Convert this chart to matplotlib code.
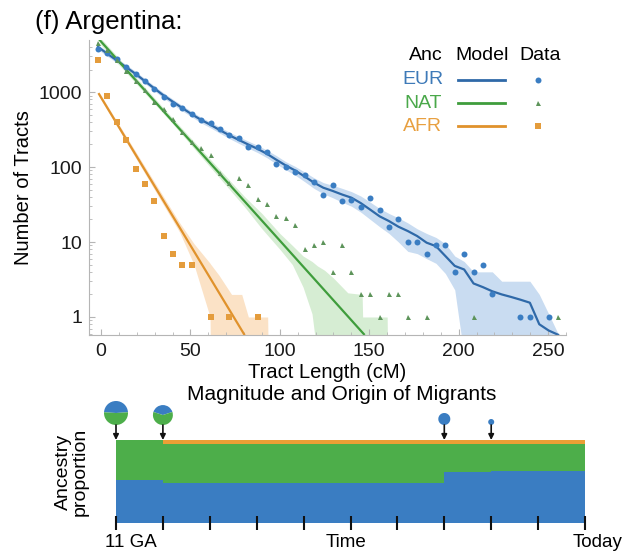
import numpy as np
import matplotlib.pyplot as plt
from matplotlib.patches import Wedge
from matplotlib.ticker import FixedLocator, LogLocator, NullFormatter, MultipleLocator

plt.rcParams['font.family'] = ['Liberation Sans', 'DejaVu Sans']
nan = np.nan

# tract length bins (cM)
bins = np.arange(50) * 5.25 - 1.7

# observed tract counts per bin
eur_data = [3730, 3300, 2740, 2170, 1740, 1400, 1090, 870, 690, 620,
            505, 425, 390, 318, 270, 245, 187, 187, 157, 110,
            100, 87, 79, 64, 42, 57, 35.5, 36, 29.5, 39,
            27, 16, 20, 10, 10, 7, 9, 9, 4, 7,
            4, 5, 2, nan, nan, 1, 1, nan, 1, nan]
nat_data = [4500, 3650, 2680, 1900, 1400, 1060, 745, 590, 435, 295,
            218, 177, 143, 83, 62, 71, 57, 38, 32, 22,
            21, 17, 8, 9, 10, 4, 9, 4, 2, 2,
            1, 2, 2, 1, nan, 1, nan, nan, nan, nan,
            1, nan, nan, nan, nan, nan, nan, nan, nan, 1]
afr_data = [2700, 880, 400, 230, 94, 59, 35, 12, 7, 5,
            5, nan, 1, nan, 1, nan, nan, 1]

# model predictions and confidence bands
eur_model = [4000, 3250, 2650, 2150, 1750, 1400, 1120, 900, 740, 610,
             505, 425, 365, 310, 265, 230, 200, 175, 150, 125,
             105, 90, 75, 62, 53, 48, 43, 39, 33, 27,
             22, 19, 16, 14, 12, 9.8, 8.8, 6.5, 4.8, 4.3,
             2.8, 2.5, 2.2, 2.0, 1.85, 1.7, 1.55, 0.8, 0.66, 0.58]
eur_upper = [4300, 3500, 2850, 2320, 1890, 1510, 1210, 975, 800, 660,
             548, 460, 398, 340, 292, 254, 222, 195, 168, 142,
             118, 102, 86, 72, 62, 57, 52, 47, 41, 34,
             28, 24, 21, 18, 15, 13, 11.5, 9.5, 6.5, 5.5,
             4, 4, 4, 3, 3, 3, 3, 2, 1.1, 0.6]
eur_lower = [3700, 3000, 2460, 1990, 1620, 1300, 1040, 830, 680, 560,
             465, 388, 333, 282, 240, 207, 179, 156, 133, 110,
             92, 78, 64, 52, 44, 39, 34, 30, 25, 20,
             16, 13, 10, 7.5, 7, 6, 5.2, 3.8, 2.3, 0.3,
             0.3, 0.3, 0.3, 0.3, 0.3, 0.3, 0.3, 0.3, 0.3, 0.3]

nat_model_x = [-0.6, 147]
nat_model = [4900, 0.59]
nat_band_x = [-0.6, 40, 80, 90, 100, 107, 113, 118, 121, 125, 130, 138, 146, 146.3, 160, 160.3]
nat_lower = [4400, 380, 30, 15, 8, 5, 2.5, 1.1, 0.3, 0.3, 0.3, 0.3, 0.3, 0.3, 0.3, 0.3]
nat_upper = [5400, 450, 41, 24, 13, 9, 6.5, 5.5, 4.8, 4.2, 3.3, 2.1, 2, 1, 1, 0.3]

afr_model_x = [-1.1, 80]
afr_model = [940, 0.59]
afr_band_x = [-1.1, 20, 44, 52, 61, 61.2, 66, 73, 78.7, 82.4, 93.2, 93.5]
afr_lower = [880, 125, 13.5, 5, 1.0, 0.3, 0.3, 0.3, 0.3, 0.3, 0.3, 0.3]
afr_upper = [1000, 152, 18, 9.5, 5.2, 5.1, 3.6, 2, 2, 1, 1, 0.3]

# ancestry proportions through time (11 GA -> today)
time_edges = [0, 1, 7, 8, 10]
eur_prop = [0.52, 0.485, 0.62, 0.63, 0.63]
nat_prop = [0.48, 0.47, 0.335, 0.325, 0.325]
afr_prop = [0.0, 0.045, 0.045, 0.045, 0.045]

# migrant pulses
pulse_time = [0, 1, 7, 8]
pulse_size = [1.0, 0.69, 0.25, 0.0625]
pulse_eur = [0.48, 0.40, 1.0, 1.0]
pulse_nat = [0.52, 0.60, 0.0, 0.0]

blue = '#3a7dc2'
green = '#4dae4a'
orange = '#eb9f35'

fig = plt.figure(figsize=(6.41, 5.54), dpi=100)

# ---- tract length distribution
ax = fig.add_axes([89/641, 219/554, 477/641, 295/554])
ax.set_yscale('log')

ax.fill_between(bins, eur_lower, eur_upper, color='#c9dcf1', lw=0, zorder=1)
ax.fill_between(nat_band_x, nat_lower, nat_upper, color='#d6edd3', lw=0, zorder=1)
ax.fill_between(afr_band_x, afr_lower, afr_upper, color='#fbe2c6', lw=0, zorder=1)

ax.plot(bins, eur_model, color='#2f69a8', lw=1.6, zorder=2)
ax.plot(nat_model_x, nat_model, color='#3f9d3c', lw=1.6, zorder=2)
ax.plot(afr_model_x, afr_model, color='#e0922c', lw=1.6, zorder=2)

ax.plot(bins, eur_data, 'o', color=blue, ms=4.3, mew=0, zorder=3)
ax.plot(bins, nat_data, '^', color='#5d945a', ms=3.6, mew=0, zorder=3)
ax.plot(bins[:len(afr_data)], afr_data, 's', color='#e49c3c', ms=3.8, mew=0, zorder=3)

ax.set_xlim(-6.7, 260)
ax.set_ylim(0.575, 4950)
ax.yaxis.set_major_locator(FixedLocator([1, 10, 100, 1000]))
ax.set_yticklabels(['1', '10', '100', '1000'])
ax.yaxis.set_minor_locator(LogLocator(base=10, subs=np.arange(2, 10)))
ax.yaxis.set_minor_formatter(NullFormatter())
ax.set_xticks([0, 50, 100, 150, 200, 250])
ax.xaxis.set_minor_locator(MultipleLocator(10))

for s in ['top', 'right']:
    ax.spines[s].set_visible(False)
for s in ['left', 'bottom']:
    ax.spines[s].set_color('#b5b5b5')
    ax.spines[s].set_linewidth(0.8)
ax.tick_params(which='both', direction='in', color='#b5b5b5', labelsize=14, labelcolor='#1a1a1a')
ax.tick_params(which='major', length=4)
ax.tick_params(which='minor', length=2.5)
ax.tick_params(axis='x', pad=6)
ax.tick_params(axis='y', pad=5)

ax.set_xlabel('Tract Length (cM)', fontsize=14.5, labelpad=2)
ax.set_ylabel('Number of Tracts', fontsize=14.5, labelpad=4)

# legend table
ax.text(0.706, 0.949, 'Anc', transform=ax.transAxes, ha='center', va='center', fontsize=14)
ax.text(0.824, 0.949, 'Model', transform=ax.transAxes, ha='center', va='center', fontsize=14)
ax.text(0.945, 0.949, 'Data', transform=ax.transAxes, ha='center', va='center', fontsize=14)
leg_rows = [('EUR', '#3e7ab8', '#2f69a8', blue, 'o', 4.3, 0.866),
            ('NAT', '#4aa84a', '#3f9d3c', '#5d945a', '^', 3.6, 0.786),
            ('AFR', '#e8a040', '#e0922c', '#e49c3c', 's', 3.8, 0.707)]
for name, tc, lc, mc, mk, ms, yy in leg_rows:
    ax.text(0.700, yy, name, transform=ax.transAxes, ha='center', va='center', fontsize=14, color=tc)
    ax.plot([0.774, 0.872], [yy, yy], transform=ax.transAxes, color=lc, lw=2, clip_on=False)
    ax.plot([0.941], [yy], mk, transform=ax.transAxes, color=mc, ms=ms, mew=0, clip_on=False)

fig.text(35/641, 532/554, '(f) Argentina:', fontsize=18.5, ha='left', va='center')

# ---- ancestry through time
ax2 = fig.add_axes([116/641, 31/554, 469/641, 83/554])
eur_top = np.array(eur_prop)
nat_top = eur_top + np.array(nat_prop)
afr_top = nat_top + np.array(afr_prop)
ax2.fill_between(time_edges, 0, eur_top, step='post', color=blue, lw=0)
ax2.fill_between(time_edges, eur_top, nat_top, step='post', color=green, lw=0)
ax2.fill_between(time_edges, nat_top, afr_top, step='post', color=orange, lw=0)
ax2.set_xlim(0, 10)
ax2.set_ylim(0, 1)
ax2.set_xticks(range(11))
ax2.set_xticklabels([])
ax2.set_yticks([])
for s in ax2.spines.values():
    s.set_visible(False)
ax2.tick_params(axis='x', direction='inout', length=10, width=1.5, color='#111111')

ax2.text(0.032, -0.23, '11 GA', transform=ax2.transAxes, ha='center', va='center', fontsize=13.5)
ax2.text(0.49, -0.23, 'Time', transform=ax2.transAxes, ha='center', va='center', fontsize=13.5)
ax2.text(1.026, -0.23, 'Today', transform=ax2.transAxes, ha='center', va='center', fontsize=13.5)
fig.text(72/641, 82/554, 'Ancestry\nproportion', rotation=90, ha='center', va='center',
         fontsize=14, linespacing=1.0)
fig.text(342/641, 159/554, 'Magnitude and Origin of Migrants', ha='center', va='center', fontsize=15)

# pies for the pulses, placed from the time axis
ov = fig.add_axes([0, 0, 1, 1], zorder=5)
ov.set_xlim(0, 641)
ov.set_ylim(0, 554)
ov.axis('off')
for t, m, fe, fn in zip(pulse_time, pulse_size, pulse_eur, pulse_nat):
    cx, ytop = ax2.transData.transform((t, 1.0))
    r = 12 * np.sqrt(m)
    cy = ytop + 15 + r
    a1 = 90 - 180 * fe
    a2 = 90 + 180 * fe
    if fe > 0:
        ov.add_patch(Wedge((cx, cy), r, a1, a2, color=blue, lw=0))
    if fn > 0:
        ov.add_patch(Wedge((cx, cy), r, a2, a2 + 360 * fn, color=green, lw=0))
    ov.annotate('', xy=(cx, ytop), xytext=(cx, ytop + 15),
                arrowprops=dict(arrowstyle='-|>', color='#111111', lw=1.2,
                                mutation_scale=8, shrinkA=0, shrinkB=0))

fig.savefig('out.png', dpi=100)
